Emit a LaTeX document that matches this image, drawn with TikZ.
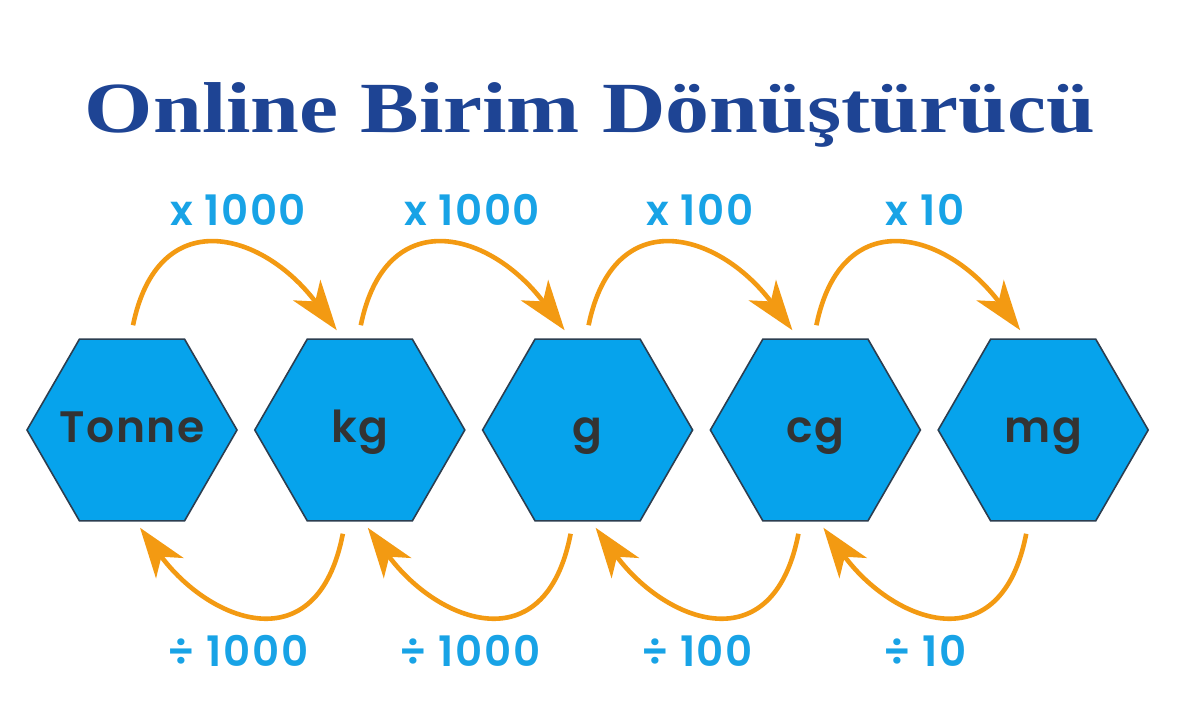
\documentclass[tikz,border=0pt]{standalone}
\usepackage{fontspec}
\setmainfont{Poppins}
\newfontfamily\medfont[LetterSpace=4]{Poppins SemiBold}
\newfontfamily\titlefont[FakeStretch=1.22]{Liberation Serif}
\usepackage{tikz}
\usetikzlibrary{shapes.geometric, arrows.meta, positioning}

\definecolor{titleblue}{HTML}{1E4494}
\definecolor{labelblue}{HTML}{18A3E6}
\definecolor{hexblue}{HTML}{06A3EC}
\definecolor{hexline}{HTML}{2C3E50}
\definecolor{unitgrey}{HTML}{333333}
\definecolor{convorange}{HTML}{F39A12}

\tikzstyle{hexa} = [regular polygon, regular polygon sides=6, minimum size=105pt, inner sep=0pt, inner xsep=-30pt, draw=hexline, line width=0.8pt, fill=hexblue, text=unitgrey, font=\medfont\fontsize{22}{22}\selectfont, text height=13pt, text depth=0pt]
\tikzstyle{conv} = [line width=2.3pt, draw=convorange, -{Stealth[length=25pt, width=17pt, inset=7pt]}]
\tikzstyle{factor} = [anchor=base, text=labelblue, font=\medfont\fontsize{21}{21}\selectfont]

\begin{document}
\begin{tikzpicture}[x=0.5pt, y=-0.5pt, node distance=113.9pt]
\useasboundingbox[fill=white] (0,0) rectangle (1180,721);

% Title
\node (title) [anchor=base, text=titleblue, font=\titlefont\fontsize{36}{36}\selectfont\bfseries] at (590,133) {Online Birim Dönüştürücü};

% Units
\node (tonne) [hexa] at (132,430) {Tonne};
\node (kg) [hexa, right of=tonne] {kg};
\node (g) [hexa, right of=kg] {g};
\node (cg) [hexa, right of=g] {cg};
\node (mg) [hexa, right of=cg] {mg};

% Factors
\node (up1) [factor] at (238,226) {x 1000};
\node (up2) [factor] at (472,226) {x 1000};
\node (up3) [factor] at (700,226) {x 100};
\node (up4) [factor] at (925,226) {x 10};
\node (down1) [factor] at (238,667) {÷ 1000};
\node (down2) [factor] at (470,667) {÷ 1000};
\node (down3) [factor] at (697,667) {÷ 100};
\node (down4) [factor] at (925,667) {÷ 10};

% Arrows
\draw [conv] ([shift={(1,-13)}]tonne.north) .. controls +(25,-122) and +(-75,-100) .. ([shift={(-23,-8)}]kg.north);
\draw [conv] ([shift={(1,-13)}]kg.north) .. controls +(25,-122) and +(-75,-100) .. ([shift={(-23,-8)}]g.north);
\draw [conv] ([shift={(1,-13)}]g.north) .. controls +(25,-122) and +(-75,-100) .. ([shift={(-23,-8)}]cg.north);
\draw [conv] ([shift={(1,-13)}]cg.north) .. controls +(25,-122) and +(-75,-100) .. ([shift={(-23,-8)}]mg.north);
\draw [conv] ([shift={(-17,12)}]kg.south) .. controls +(-25,130) and +(70,95) .. ([shift={(8,6)}]tonne.south);
\draw [conv] ([shift={(-17,12)}]g.south) .. controls +(-25,130) and +(70,95) .. ([shift={(8,6)}]kg.south);
\draw [conv] ([shift={(-17,12)}]cg.south) .. controls +(-25,130) and +(70,95) .. ([shift={(8,6)}]g.south);
\draw [conv] ([shift={(-17,12)}]mg.south) .. controls +(-25,130) and +(70,95) .. ([shift={(8,6)}]cg.south);

\end{tikzpicture}
\end{document}
